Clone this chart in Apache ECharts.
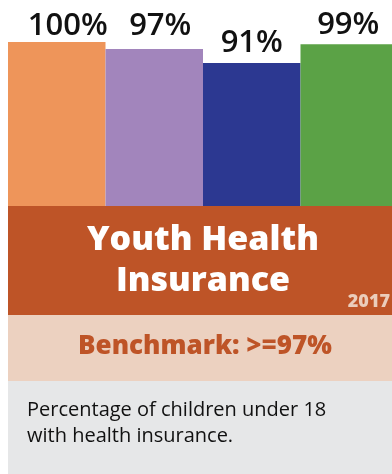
<!DOCTYPE html>
<html>
<head>
<meta charset="utf-8">
<script src="https://cdn.jsdelivr.net/npm/echarts@6/dist/echarts.min.js"></script>
<style>
html,body{margin:0;padding:0;background:#fff;}
#chart{width:392px;height:474px;}
</style>
</head>
<body>
<div id="chart"></div>
<script>
var categories = ['Group 1', 'Group 2', 'Group 3', 'Group 4'];
var values = [100, 97, 91, 99];
var barColors = ['#EE955A', '#A285BC', '#2C3891', '#5BA246'];
var labelDistance = [0, 7, 4, 4];
var labelOffsetX = [11, 6, 0, -1];
var titleLines = ['Youth Health', 'Insurance'];
var yearText = '2017';
var benchmarkText = 'Benchmark: >=97%';
var noteLines = ['Percentage of children under 18', 'with health insurance.'];

var chart = echarts.init(document.getElementById('chart'), null, {renderer: 'canvas'});

var seriesData = values.map(function (v, i) {
  return {
    value: v,
    itemStyle: {color: barColors[i]},
    label: {distance: labelDistance[i], offset: [labelOffsetX[i], 0]}
  };
});

function txt(x, baseline, text, font, size, fill, align) {
  return {
    type: 'text', x: x, y: baseline - size * 0.35,
    style: {text: text, fill: fill, font: font, textAlign: align, verticalAlign: 'middle'}
  };
}

var option = {
  backgroundColor: '#ffffff',
  animation: false,
  grid: {left: 8, top: 42, width: 390, height: 164, containLabel: false, outerBoundsMode: 'none'},
  xAxis: {type: 'category', data: categories, show: false},
  yAxis: {type: 'value', min: 30, max: 100, show: false},
  series: [{
    type: 'bar',
    data: seriesData,
    barCategoryGap: '0%',
    label: {
      show: true,
      position: 'top',
      formatter: '{c}%',
      color: '#111111',
      fontFamily: 'Open Sans',
      fontWeight: 600,
      fontSize: 31
    }
  }],
  graphic: [
    {type: 'rect', shape: {x: 8, y: 206, width: 384, height: 109}, style: {fill: '#BE5427'}},
    {type: 'rect', shape: {x: 8, y: 315, width: 384, height: 66}, style: {fill: '#ECD1C0'}},
    {type: 'rect', shape: {x: 8, y: 381, width: 384, height: 93}, style: {fill: '#E6E7E8'}},
    txt(203, 252, titleLines[0], '800 34px "Open Sans"', 34, '#ffffff', 'center'),
    txt(203, 293, titleLines[1], '800 34px "Open Sans"', 34, '#ffffff', 'center'),
    txt(390, 308, yearText, '800 18px "Open Sans"', 18, '#EBCDBB', 'right'),
    txt(205, 356, benchmarkText, '800 26px "Open Sans"', 26, '#BE5427', 'center'),
    txt(27, 417.5, noteLines[0], '20px "Open Sans"', 20, '#111111', 'left'),
    txt(27, 443, noteLines[1], '20px "Open Sans"', 20, '#111111', 'left')
  ]
};
chart.setOption(option);
</script>
</body>
</html>
